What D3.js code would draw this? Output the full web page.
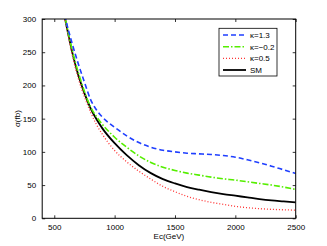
<!DOCTYPE html>
<html><head><meta charset="utf-8">
<script src="https://cdn.jsdelivr.net/npm/d3@7"></script>
<style>body{margin:0;background:#fff}svg{display:block}text{font-family:"Liberation Sans",Arial,sans-serif}</style>
</head><body>
<svg id="c" width="327" height="246"></svg>
<script>
const energies = [575,600,650,700,750,800,850,900,1000,1100,1200,1300,1400,1500,1600,1700,1800,1900,2000,2100,2200,2300,2400,2500];
const kappa13  = [318,296,262,232,205,179,163,152,137,124,114,107,102.5,100,98,97,96,94.5,92,88,83.5,78.5,73,67.5];
const kappaM02 = [315,293,252,219,191,168,153,141,122,107,94,84,77,72,68,65,62,59.5,57.5,55,52.5,50,47,43.5];
const kappa05  = [312,289,245,210,183,160,141,126,102,85,71,59,48,40,33,28,24,21,18,16,14.5,13.5,12.8,12.3];
const sm       = [313,291,249,215,188,166,149,135,113,95,80,68,59,52.5,47,43,39.5,36.5,34,31.5,29,27,25.5,24];
const seriesNames = ["κ=1.3","κ=−0.2","κ=0.5","SM"];
const xTicks = [500,1000,1500,2000,2500];
const yTicks = [0,50,100,150,200,250,300];

const svg = d3.select("#c");
const L=42.2, R=295.7, T=19, B=218.3;
const x = d3.scaleLinear().domain([400,2500]).range([L,R]);
const y = d3.scaleLinear().domain([0,300]).range([B,T]);

svg.append("defs").append("clipPath").attr("id","clip")
  .append("rect").attr("x",L).attr("y",T).attr("width",R-L).attr("height",B-T);

const styles = [
  {color:"#1f3fff", dash:"5,3", w:1.6},
  {color:"#55ee00", dash:"6,2,1.5,2", w:1.6},
  {color:"#ff3333", dash:"1,2", w:1.3},
  {color:"#000000", dash:null, w:1.8}
];
const data = [kappa13,kappaM02,kappa05,sm];
const line = d3.line().x((d,i)=>x(energies[i])).y(d=>y(d)).curve(d3.curveMonotoneX);
const g = svg.append("g").attr("clip-path","url(#clip)");
[3,2,1,0].forEach(k=>{
  const p = g.append("path").datum(data[k]).attr("d",line).attr("fill","none")
   .attr("stroke",styles[k].color).attr("stroke-width",styles[k].w);
  if(styles[k].dash) p.attr("stroke-dasharray",styles[k].dash);
});

const fs = "8px";
const fmt = d3.format("d");
const ax = svg.append("g").attr("transform",`translate(0,${B})`)
  .call(d3.axisBottom(x).tickValues(xTicks).tickSize(-3).tickPadding(6).tickFormat(fmt));
const axT = svg.append("g").attr("transform",`translate(0,${T})`)
  .call(d3.axisTop(x).tickValues(xTicks).tickSize(-3).tickFormat(""));
const ay = svg.append("g").attr("transform",`translate(${L},0)`)
  .call(d3.axisLeft(y).tickValues(yTicks).tickSize(-3).tickPadding(6).tickFormat(fmt));
const ayR = svg.append("g").attr("transform",`translate(${R},0)`)
  .call(d3.axisRight(y).tickValues(yTicks).tickSize(-3).tickFormat(""));
[ax,axT,ay,ayR].forEach(a=>{
  a.select(".domain").remove();
  a.selectAll("line").attr("stroke","#000").attr("stroke-width",0.8);
  a.selectAll("text").attr("font-size",fs).attr("fill","#000").attr("font-family","Liberation Sans, Arial, sans-serif");
});
svg.append("rect").attr("x",L).attr("y",T).attr("width",R-L).attr("height",B-T)
  .attr("fill","none").attr("stroke","#000").attr("stroke-width",1);

svg.append("text").attr("x",(L+R)/2).attr("y",239).attr("text-anchor","middle")
  .attr("font-size",fs).text("Ec(GeV)");
svg.append("text").attr("transform",`translate(20,${(T+B)/2}) rotate(-90)`).attr("text-anchor","middle")
  .attr("font-size",fs).text("σ(fb)");

const lg = svg.append("g");
lg.append("rect").attr("x",219).attr("y",28.3).attr("width",58).attr("height",47.7)
  .attr("fill","#fff").attr("stroke","#000").attr("stroke-width",0.8);
const rows = [35,46.7,58.3,70];
seriesNames.forEach((n,k)=>{
  const l = lg.append("line").attr("x1",223).attr("x2",246).attr("y1",rows[k]).attr("y2",rows[k])
    .attr("stroke",styles[k].color).attr("stroke-width",styles[k].w);
  if(styles[k].dash) l.attr("stroke-dasharray",styles[k].dash);
  lg.append("text").attr("x",250).attr("y",rows[k]+3).attr("font-size",fs).text(n);
});
</script>
</body></html>
